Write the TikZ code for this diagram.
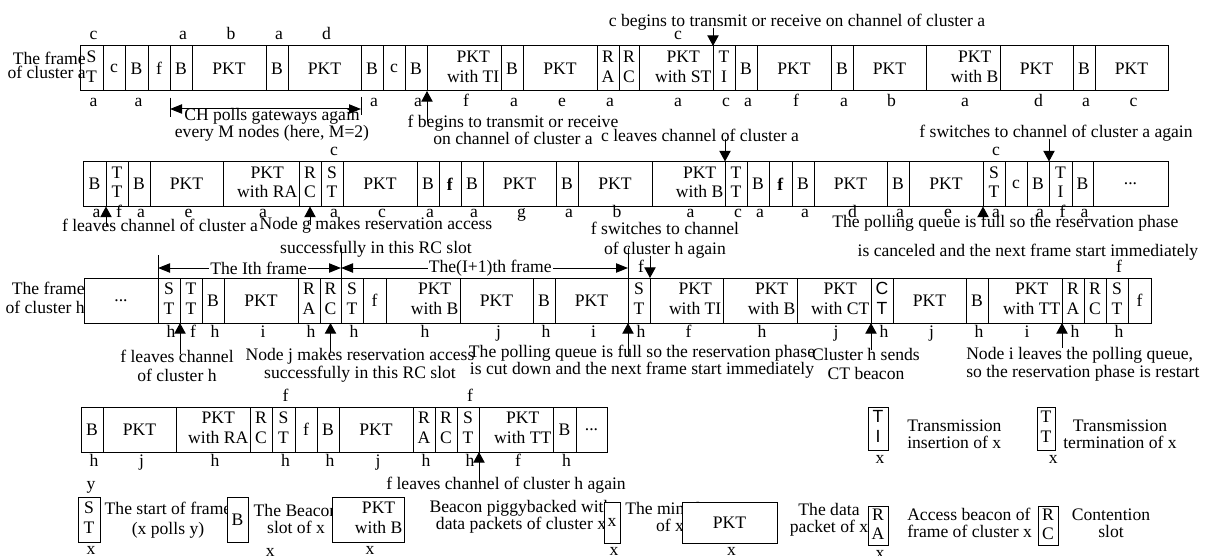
\documentclass[tikz,border=0pt]{standalone}
\usepackage{fontspec}
\setmainfont{Liberation Serif}
\setsansfont{Liberation Sans}
\usetikzlibrary{arrows.meta,positioning}

\newcommand\two[2]{\begin{tabular}{@{}c@{}}#1\\#2\end{tabular}}
\newcommand\pw[1]{\makebox[\cw pt][r]{\two{PKT}{with #1}}}

\begin{document}
\begin{tikzpicture}[
    x=0.75pt, y=-0.75pt,
    font=\fontsize{13.2}{12.75}\selectfont,
    cell/.style={draw, rectangle, line width=0.75pt, minimum height=33.75pt, inner sep=0pt, outer sep=0pt,
                 font=\fontsize{13.2}{14.5}\selectfont},
    legbox/.style={cell, fill=white},
    lbl/.style={anchor=base, inner sep=0pt, xshift=1.5pt},
    note/.style={inner sep=0pt, align=center},
    arrow/.style={-{Triangle[length=8pt, width=8.5pt]}, line width=0.75pt},
    spanarrow/.style={{Triangle[length=9pt, width=7pt]}-{Triangle[length=9pt, width=7pt]}, line width=0.75pt},
    tick/.style={line width=0.75pt}
]
    \useasboundingbox (0,0) rectangle (1205,556);

    % Frame of cluster a, first part
    \foreach \l/\r/\t/\lb/\la [count=\i] in {
        80/103/{\two{S}{T}}/a/c, 103/125/c/{}/{}, 125/148/B/a/{}, 148/170/f/{}/{},
        170/192/B/{}/a, 192/266/PKT/{}/b, 266/288/B/{}/a, 288/361/PKT/{}/d,
        361/383/B/a/{}, 383/405/c/{}/{}, 405/427/B/a/{}, 427/501/{\pw{TI}}/f/{},
        501/523/B/a/{}, 523/597/PKT/e/{}, 597/619/{\two{R}{A}}/a/{}, 619/639/{\two{R}{C}}/{}/{},
        639/713/{\pw{ST}}/a/c, 713/735/{\two{T}{I}}/c/{}, 735/757/B/a/{}, 757/831/PKT/f/{},
        831/853/B/a/{}, 853/926/PKT/b/{}, 926/1000/{\pw{B}}/a/{}, 1000/1073/PKT/d/{},
        1073/1095/B/a/{}, 1095/1168/PKT/c/{}}
    {
        \pgfmathsetmacro\cw{(\r-\l)*0.75-2.5}
        \node[cell, minimum width={(\r-\l)*0.75pt}] (a1-\i) at ({(\l+\r)/2},68.5) {\t};
        \node[lbl] (a1-\i-lo) at ([yshift=-11.5pt]a1-\i.south) {\lb};
        \node[lbl] (a1-\i-up) at ([yshift=4.5pt]a1-\i.north) {\la};
    }
    \node[note, align=right, anchor=east] (fa) at ([xshift=4.5pt, yshift=2.6pt]a1-1.west)
        {The frame\\[-2.25pt]of cluster a};

    % Frame of cluster a, second part
    \foreach \l/\r/\t/\lb/\la [count=\i] in {
        83/106/B/a/{}, 106/128/{\two{T}{T}}/f/{}, 128/150/B/a/{}, 150/223/PKT/e/{},
        223/299/{\pw{RA}}/a/{}, 299/321/{\two{R}{C}}/{}/{}, 321/343/{\two{S}{T}}/a/c, 343/417/PKT/c/{},
        417/439/B/a/{}, 439/461/{\textbf{f}}/{}/{}, 461/483/B/a/{}, 483/556/PKT/g/{},
        556/578/B/a/{}, 578/652/PKT/b/{}, 652/725/{\pw{B}}/a/{}, 725/747/{\two{T}{T}}/c/{},
        747/769/B/a/{}, 769/792/{\textbf{f}}/{}/{}, 792/814/B/a/{}, 814/887/PKT/d/{},
        887/909/B/a/{}, 909/983/PKT/e/{}, 983/1005/{\two{S}{T}}/a/c, 1005/1027/c/{}/{},
        1027/1049/B/a/{}, 1049/1072/{\two{T}{I}}/f/{}, 1072/1093/B/a/{}, 1093/1168/{...}/{}/{}}
    {
        \pgfmathsetmacro\cw{(\r-\l)*0.75-2.5}
        \node[cell, minimum width={(\r-\l)*0.75pt}] (a2-\i) at ({(\l+\r)/2},184) {\t};
        \node[lbl] (a2-\i-lo) at ([yshift=-8.5pt]a2-\i.south) {\lb};
        \node[lbl] (a2-\i-up) at ([yshift=4.5pt]a2-\i.north) {\la};
    }

    % Frame of cluster h, first part
    \foreach \l/\r/\t/\lb/\la [count=\i] in {
        84/158/{...}/{}/{}, 158/180/{\two{S}{T}}/h/{}, 180/202/{\two{T}{T}}/f/{}, 202/224/B/h/{},
        224/298/PKT/i/{}, 298/320/{\two{R}{A}}/h/{}, 320/341/{\two{R}{C}}/{}/{}, 341/363/{\two{S}{T}}/h/{},
        363/386/f/{}/{}, 386/460/{\pw{B}}/h/{}, 460/533/PKT/j/{}, 533/555/B/h/{},
        555/628/PKT/i/{}, 628/650/{\two{S}{T}}/h/f, 650/723/{\pw{TI}}/f/{}, 723/797/{\pw{B}}/h/{},
        797/871/{\pw{CT}}/j/{}, 871/893/{\sffamily\two{C}{T}}/h/{}, 893/966/PKT/j/{}, 966/988/B/h/{},
        988/1062/{\pw{TT}}/i/{}, 1062/1084/{\two{R}{A}}/h/{}, 1084/1106/{\two{R}{C}}/{}/{}, 1106/1128/{\two{S}{T}}/h/f,
        1128/1151/f/{}/{}}
    {
        \pgfmathsetmacro\cw{(\r-\l)*0.75-2.5}
        \node[cell, minimum width={(\r-\l)*0.75pt}] (h1-\i) at ({(\l+\r)/2},300.5) {\t};
        \node[lbl] (h1-\i-lo) at ([yshift=-10.5pt]h1-\i.south) {\lb};
        \node[lbl] (h1-\i-up) at ([yshift=4.5pt]h1-\i.north) {\la};
    }
    \node[note, align=right, anchor=east] (fh) at ([xshift=0.75pt, yshift=2.25pt]h1-1.west)
        {The frame\\[1.5pt]of cluster h};

    % Frame of cluster h, second part
    \foreach \l/\r/\t/\lb/\la [count=\i] in {
        81/103/B/h/{}, 103/176/PKT/j/{}, 176/250/{\pw{RA}}/h/{}, 250/272/{\two{R}{C}}/{}/{},
        272/295/{\two{S}{T}}/h/f, 295/317/f/{}/{}, 317/339/B/h/{}, 339/413/PKT/j/{},
        413/435/{\two{R}{A}}/h/{}, 435/457/{\two{R}{C}}/{}/{}, 457/479/{\two{S}{T}}/h/f, 479/553/{\pw{TT}}/f/{},
        553/576/B/h/{}, 576/607/{...}/{}/{}}
    {
        \pgfmathsetmacro\cw{(\r-\l)*0.75-2.5}
        \node[cell, minimum width={(\r-\l)*0.75pt}] (h2-\i) at ({(\l+\r)/2},429.5) {\t};
        \node[lbl] (h2-\i-lo) at ([yshift=-11pt]h2-\i.south) {\lb};
        \node[lbl] (h2-\i-up) at ([yshift=4.5pt]h2-\i.north) {\la};
    }

    % Events on the channel of cluster a
    \node[note] (cbeg) at (797,22) {c begins to transmit or receive on channel of cluster a};
    \draw[arrow] ([yshift=2pt]cbeg.south -| a1-17.north east) -- (a1-17.north east);

    \node[note] (fbeg) at (513,130) {f begins to transmit or receive\\on channel of cluster a};
    \draw[arrow] ([yshift=-5pt]fbeg.north -| a1-11.south east) -- (a1-11.south east);

    \node[note] (chpoll) at (272,124.5) {CH polls gateways again\\every M nodes (here, M=2)};
    \draw[tick] ([yshift=-5pt]a1-5.south west) -- ([yshift=-19.5pt]a1-5.south west);
    \draw[tick] ([yshift=-4.5pt]a1-8.south east) -- ([yshift=-18pt]a1-8.south east);
    \draw[spanarrow] ([yshift=-13.5pt]a1-5.south west) -- ([yshift=-13.5pt]a1-8.south east);

    \node[note] (fla) at (160,225) {f leaves channel of cluster a};
    \draw[arrow] ([yshift=-6pt]fla.north -| a2-1.south east) -- (a2-1.south east);

    \node[note] (ngm) at (376,237) {Node g makes reservation access\\[5pt]successfully in this RC slot};
    \draw[arrow] ([yshift=-6pt]ngm.north -| a2-6.south) -- (a2-6.south);

    \node[note] (cla) at (700,135) {c leaves channel of cluster a};
    \draw[arrow] ([yshift=2pt]cla.south -| a2-16.north west) -- (a2-16.north west);

    \node[note] (fsa) at (1056,133) {f switches to channel of cluster a again};
    \draw[arrow] ([yshift=2pt]fsa.south -| a2-26.north west) -- (a2-26.north west);

    \node[note, align=left, anchor=west] (pqc) at (832,238)
        {The polling queue is full so the reservation phase\\[9pt]\hspace*{19pt}is canceled and the next frame start immediately};
    \draw[arrow] ([yshift=-6pt]pqc.north -| a2-23.south west) -- (a2-23.south west);

    % Events on the channel of cluster h
    \node[note] (fsh) at (665,240) {f switches to channel\\[2.25pt]of cluster h again};
    \draw[arrow] ([yshift=2pt]fsh.south -| h1-14.north east) -- (h1-14.north east);

    \draw[tick] ([yshift=17.25pt]h1-2.north west) -- (h1-2.north west);
    \draw[tick] ([yshift=22.5pt]h1-8.north west) -- (h1-8.north west);
    \draw[tick] ([yshift=22.5pt]h1-14.north west) -- (h1-14.north west);
    \draw[spanarrow] ([yshift=7.5pt]h1-2.north west)
        -- node[pos=0.55, fill=white, inner sep=1pt] (ith) {The Ith frame} ([yshift=7.5pt]h1-8.north west);
    \draw[spanarrow] ([yshift=7.5pt]h1-8.north west)
        -- node[pos=0.52, fill=white, inner sep=1pt] (inext) {The(I+1)th frame} ([yshift=7.5pt]h1-14.north west);

    \node[note] (flh) at (177,366) {f leaves channel\\[1pt]of cluster h};
    \draw[arrow] ([yshift=-3pt]flh.north -| h1-2.south east) -- (h1-2.south east);

    \node[note] (njm) at (360,365) {Node j makes reservation access\\[1pt]successfully in this RC slot};
    \draw[arrow] ([yshift=-3pt]njm.north -| h1-7.south) -- (h1-7.south);

    \node[note] (pqd) at (642,362)
        {The polling queue is full so the reservation phase\\is cut down and the next frame start immediately};
    \draw[arrow] ([yshift=-8pt]pqd.north -| h1-13.south east) -- (h1-13.south east);

    \node[note] (chs) at (866,364) {Cluster h sends\\[1pt]CT beacon};
    \draw[arrow] ([yshift=-1pt]chs.north -| h1-17.south east) -- (h1-17.south east);

    \node[note, align=left, anchor=west] (nil) at (966,364)
        {Node i leaves the polling queue,\\[1pt]so the reservation phase is restart};
    \draw[arrow] ([yshift=-1pt]nil.north -| h1-21.south east) -- (h1-21.south east);

    \node[note] (flha) at (506,485) {f leaves channel of cluster h again};
    \draw[arrow] ([yshift=-5pt]flha.north -| h2-11.south east) -- (h2-11.south east);

    % Legend
    \node[legbox, minimum width=15pt, minimum height=32.25pt, font=\sffamily\fontsize{13.2}{14.5}\selectfont]
        (lgti) at (878,428.5) {\two{T}{I}};
    \node[lbl] at ([yshift=-10pt]lgti.south) {x};
    \node[note, align=left, anchor=west] (lgti-t) at (907,434) {Transmission\\insertion of x};

    \node[legbox, minimum width=13.5pt, minimum height=32.25pt] (lgtt) at (1046,428.5) {\two{T}{T}};
    \node[lbl] at ([xshift=4pt, yshift=-10pt]lgtt.south) {x};
    \node[note] (lgtt-t) at (1120,434) {Transmission\\termination of x};

    \node[note] (lgst-t) at (168,520) {The start of frame\\[2pt](x polls y)};
    \node[legbox, minimum width=16.5pt] (lgst) at (89,519.5) {\two{S}{T}};
    \node[lbl] at ([yshift=6pt]lgst.north) {y};
    \node[lbl] at ([yshift=-9pt]lgst.south) {x};

    \node[note] (lgb-t) at (296,519) {The Beacon\\slot of x};
    \node[legbox, minimum width=15.75pt] (lgb) at (237.5,519.5) {B};
    \node[lbl] at ([xshift=23pt, yshift=-11pt]lgb.south) {x};

    \pgfmathsetmacro\cw{72*0.75-2.5}
    \node[legbox, minimum width=54pt] (lgpb) at (368,519.5) {\pw{B}};
    \node[lbl] at ([yshift=-9.5pt]lgpb.south) {x};

    \node[note] (lgpb-t) at (521,517) {Beacon piggybacked with\\data packets of cluster x};

    \node[legbox, minimum width=12pt, minimum height=30.75pt] (lgm) at (612,522.5) {x};
    \node[lbl] at ([yshift=-9.5pt]lgm.south) {x};

    \node[note] (lgm-t) at (670,517) {The minislot\\of x};
    \node[legbox, minimum width=71.25pt, minimum height=30.75pt] (lgp) at (729.5,522.5) {PKT};
    \node[lbl] at ([yshift=-9.5pt]lgp.south) {x};

    \node[note] (lgp-t) at (829,520) {The data\\packet of x};

    \node[legbox, minimum width=15pt, minimum height=29.25pt] (lgra) at (878,526) {\two{R}{A}};
    \node[lbl] at ([yshift=-9.5pt]lgra.south) {x};
    \node[note, align=left, anchor=west] (lgra-t) at (907,523) {Access beacon of\\frame of cluster x};

    \node[legbox, minimum width=15pt, minimum height=29.25pt] (lgrc) at (1048,526) {\two{R}{C}};
    \node[note] (lgrc-t) at (1111,523) {Contention\\slot};
\end{tikzpicture}
\end{document}
